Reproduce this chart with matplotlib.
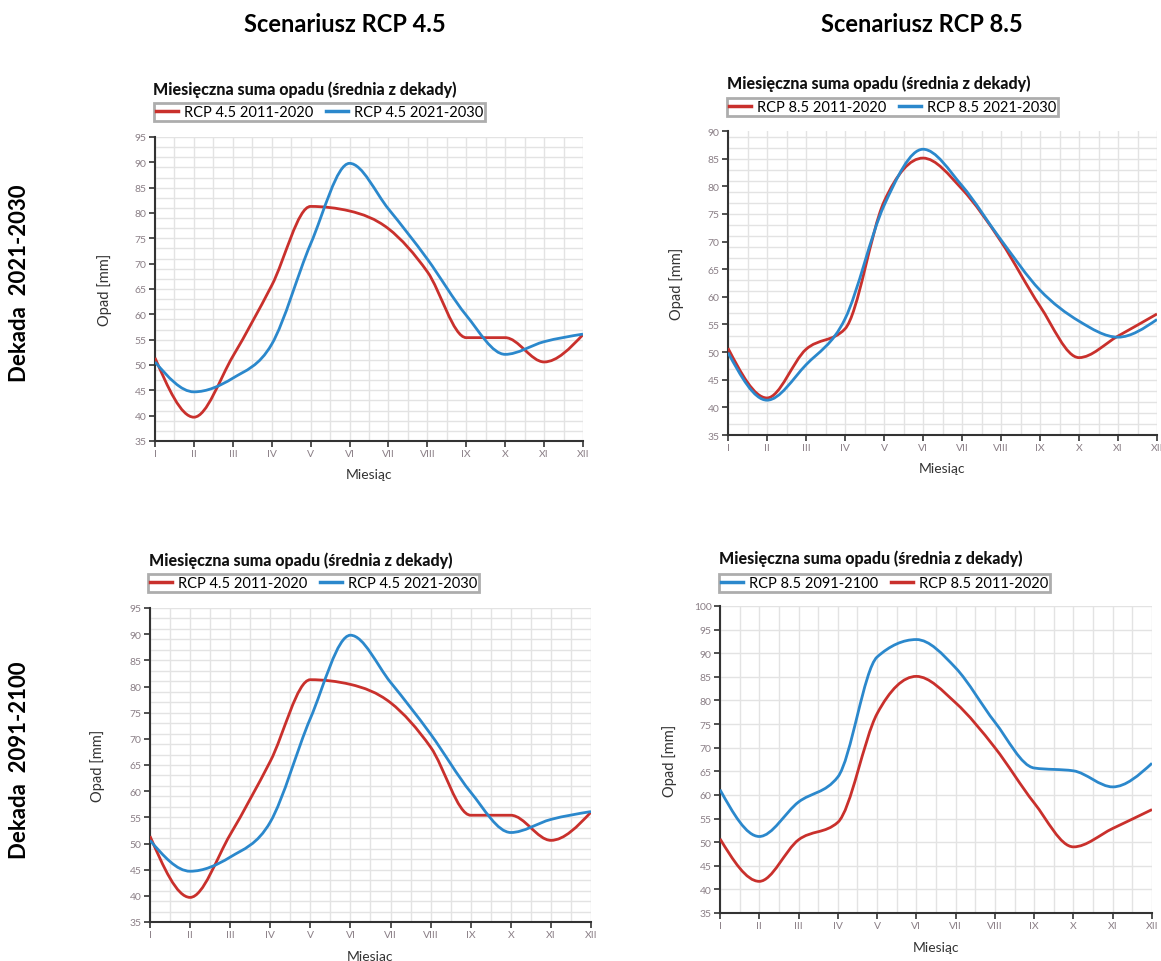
import numpy as np
import matplotlib
matplotlib.use('Agg')
import matplotlib.pyplot as plt
from matplotlib.path import Path
from matplotlib.patches import PathPatch
from matplotlib.lines import Line2D

plt.rcParams['font.family'] = ['Lato', 'DejaVu Sans']

months = ['I', 'II', 'III', 'IV', 'V', 'VI', 'VII', 'VIII', 'IX', 'X', 'XI', 'XII']

rcp45_2011 = [51.4, 39.7, 51.7, 65.7, 81.3, 80.4, 76.9, 68.4, 55.4, 55.4, 50.6, 56.0]
rcp45_2021 = [50.6, 44.7, 47.4, 54.1, 73.9, 89.8, 80.8, 70.9, 59.8, 52.1, 54.6, 56.1]
rcp85_2011 = [50.7, 41.7, 50.5, 54.2, 77.2, 85.1, 79.5, 70.0, 58.3, 49.0, 52.9, 56.9]
rcp85_2021 = [49.9, 41.3, 47.7, 56.0, 76.5, 86.7, 80.1, 70.3, 61.2, 55.6, 52.7, 55.9]
rcp85_2091 = [61.1, 51.2, 58.5, 63.8, 89.2, 92.9, 86.9, 75.4, 65.7, 65.1, 61.7, 66.7]

RED = '#c9302c'
BLUE = '#2b88cc'


def slope3(x0, x1, x2, y0, y1, y2):
    h0 = x1 - x0
    h1 = x2 - x1
    s0 = (y1 - y0) / h0
    s1 = (y2 - y1) / h1
    p = (s0 * h1 + s1 * h0) / (h0 + h1)
    return (np.sign(s0) + np.sign(s1)) * min(abs(s0), abs(s1), 0.5 * abs(p))


def monotone_path(x, y):
    # same idea as d3 curveMonotoneX: cubic bezier pieces
    n = len(x)
    t = [0.0] * n
    for i in range(1, n - 1):
        t[i] = slope3(x[i-1], x[i], x[i+1], y[i-1], y[i], y[i+1])
    t[0] = (3 * (y[1] - y[0]) / (x[1] - x[0]) - t[1]) / 2
    t[-1] = (3 * (y[-1] - y[-2]) / (x[-1] - x[-2]) - t[-2]) / 2
    verts = [(x[0], y[0])]
    codes = [Path.MOVETO]
    for i in range(n - 1):
        dx = (x[i+1] - x[i]) / 3
        verts += [(x[i] + dx, y[i] + dx * t[i]),
                  (x[i+1] - dx, y[i+1] - dx * t[i+1]),
                  (x[i+1], y[i+1])]
        codes += [Path.CURVE4] * 3
    return Path(verts, codes)


def panel(rect, series, ymax, gstep, title, title_xy, leg_xy, ylab_x, xlab_y):
    ax = fig.add_axes(rect)
    xs = np.arange(1, 13)
    ax.set_xlim(1, 12)
    ax.set_ylim(35, ymax)
    for gx in np.arange(1, 12.01, 0.5):
        ax.axvline(gx, color='#e3e3e3', lw=1, zorder=0)
    for gy in np.arange(35, ymax + 0.01, gstep):
        ax.axhline(gy, color='#e3e3e3', lw=1, zorder=0)
    for vals, col, lab in series:
        ax.add_patch(PathPatch(monotone_path(xs, vals), fill=False,
                               edgecolor=col, lw=2, zorder=3))
    ax.set_xticks(xs)
    ax.set_xticklabels(months)
    ax.set_yticks(np.arange(35, ymax + 0.1, 5))
    ax.tick_params(labelsize=7.5, colors='#333333', length=4, width=1.2,
                   labelcolor='#8a7f86', pad=2)
    for s in ['top', 'right']:
        ax.spines[s].set_visible(False)
    for s in ['left', 'bottom']:
        ax.spines[s].set_color('#333333')
        ax.spines[s].set_linewidth(1.5)
    fig.text(title_xy[0] / W, 1 - title_xy[1] / H, title, fontsize=11.5,
             fontweight='black', va='center', ha='left', color='#111111')
    handles = [Line2D([], [], color=c, lw=2.5) for _, c, _ in series]
    labels = [l for _, _, l in series]
    fig.legend(handles, labels, loc='upper left',
               bbox_to_anchor=(leg_xy[0] / W, 1 - leg_xy[1] / H),
               ncol=2, fontsize=10.5, frameon=True, fancybox=False,
               edgecolor='#999999', borderpad=0.15, handlelength=1.5,
               handletextpad=0.4, columnspacing=0.9, borderaxespad=0)
    fig.legends[-1].get_frame().set_linewidth(2)
    fig.text(ylab_x / W, rect[1] + rect[3] / 2, 'Opad [mm]', rotation=90,
             fontsize=10.5, va='center', ha='center', color='#333333')
    fig.text(rect[0] + rect[2] / 2, 1 - xlab_y / H, 'Miesiąc', fontsize=10,
             va='center', ha='center', color='#333333')
    return ax


W, H = 1161, 962
fig = plt.figure(figsize=(W / 100, H / 100), dpi=100)

title = 'Miesięczna suma opadu (średnia z dekady)'

panel([155 / W, 1 - 442 / H, 428 / W, 304 / H],
      [(rcp45_2011, RED, 'RCP 4.5 2011-2020'), (rcp45_2021, BLUE, 'RCP 4.5 2021-2030')],
      95, 2, title, (153, 90), (154, 104), 105, 475)
panel([728 / W, 1 - 436 / H, 429 / W, 304 / H],
      [(rcp85_2011, RED, 'RCP 8.5 2011-2020'), (rcp85_2021, BLUE, 'RCP 8.5 2021-2030')],
      90, 2, title, (727, 84), (727, 99), 677, 469)
panel([150 / W, 1 - 923 / H, 441 / W, 314 / H],
      [(rcp45_2011, RED, 'RCP 4.5 2011-2020'), (rcp45_2021, BLUE, 'RCP 4.5 2021-2030')],
      95, 2, title, (149, 561), (148, 575), 98, 957)
panel([720 / W, 1 - 914 / H, 432 / W, 307 / H],
      [(rcp85_2091, BLUE, 'RCP 8.5 2091-2100'), (rcp85_2011, RED, 'RCP 8.5 2011-2020')],
      100, 5, title, (719, 559), (719, 575), 670, 948)

fig.text(345 / W, 1 - 24 / H, 'Scenariusz RCP 4.5', fontsize=17, fontweight='bold',
         ha='center', va='center')
fig.text(922 / W, 1 - 24 / H, 'Scenariusz RCP 8.5', fontsize=17, fontweight='bold',
         ha='center', va='center')
fig.text(20 / W, 1 - 283 / H, 'Dekada  2021-2030', fontsize=16, fontweight='bold',
         ha='center', va='center', rotation=90)
fig.text(20 / W, 1 - 760 / H, 'Dekada  2091-2100', fontsize=16, fontweight='bold',
         ha='center', va='center', rotation=90)

fig.savefig('out.png', dpi=100, facecolor='white')
